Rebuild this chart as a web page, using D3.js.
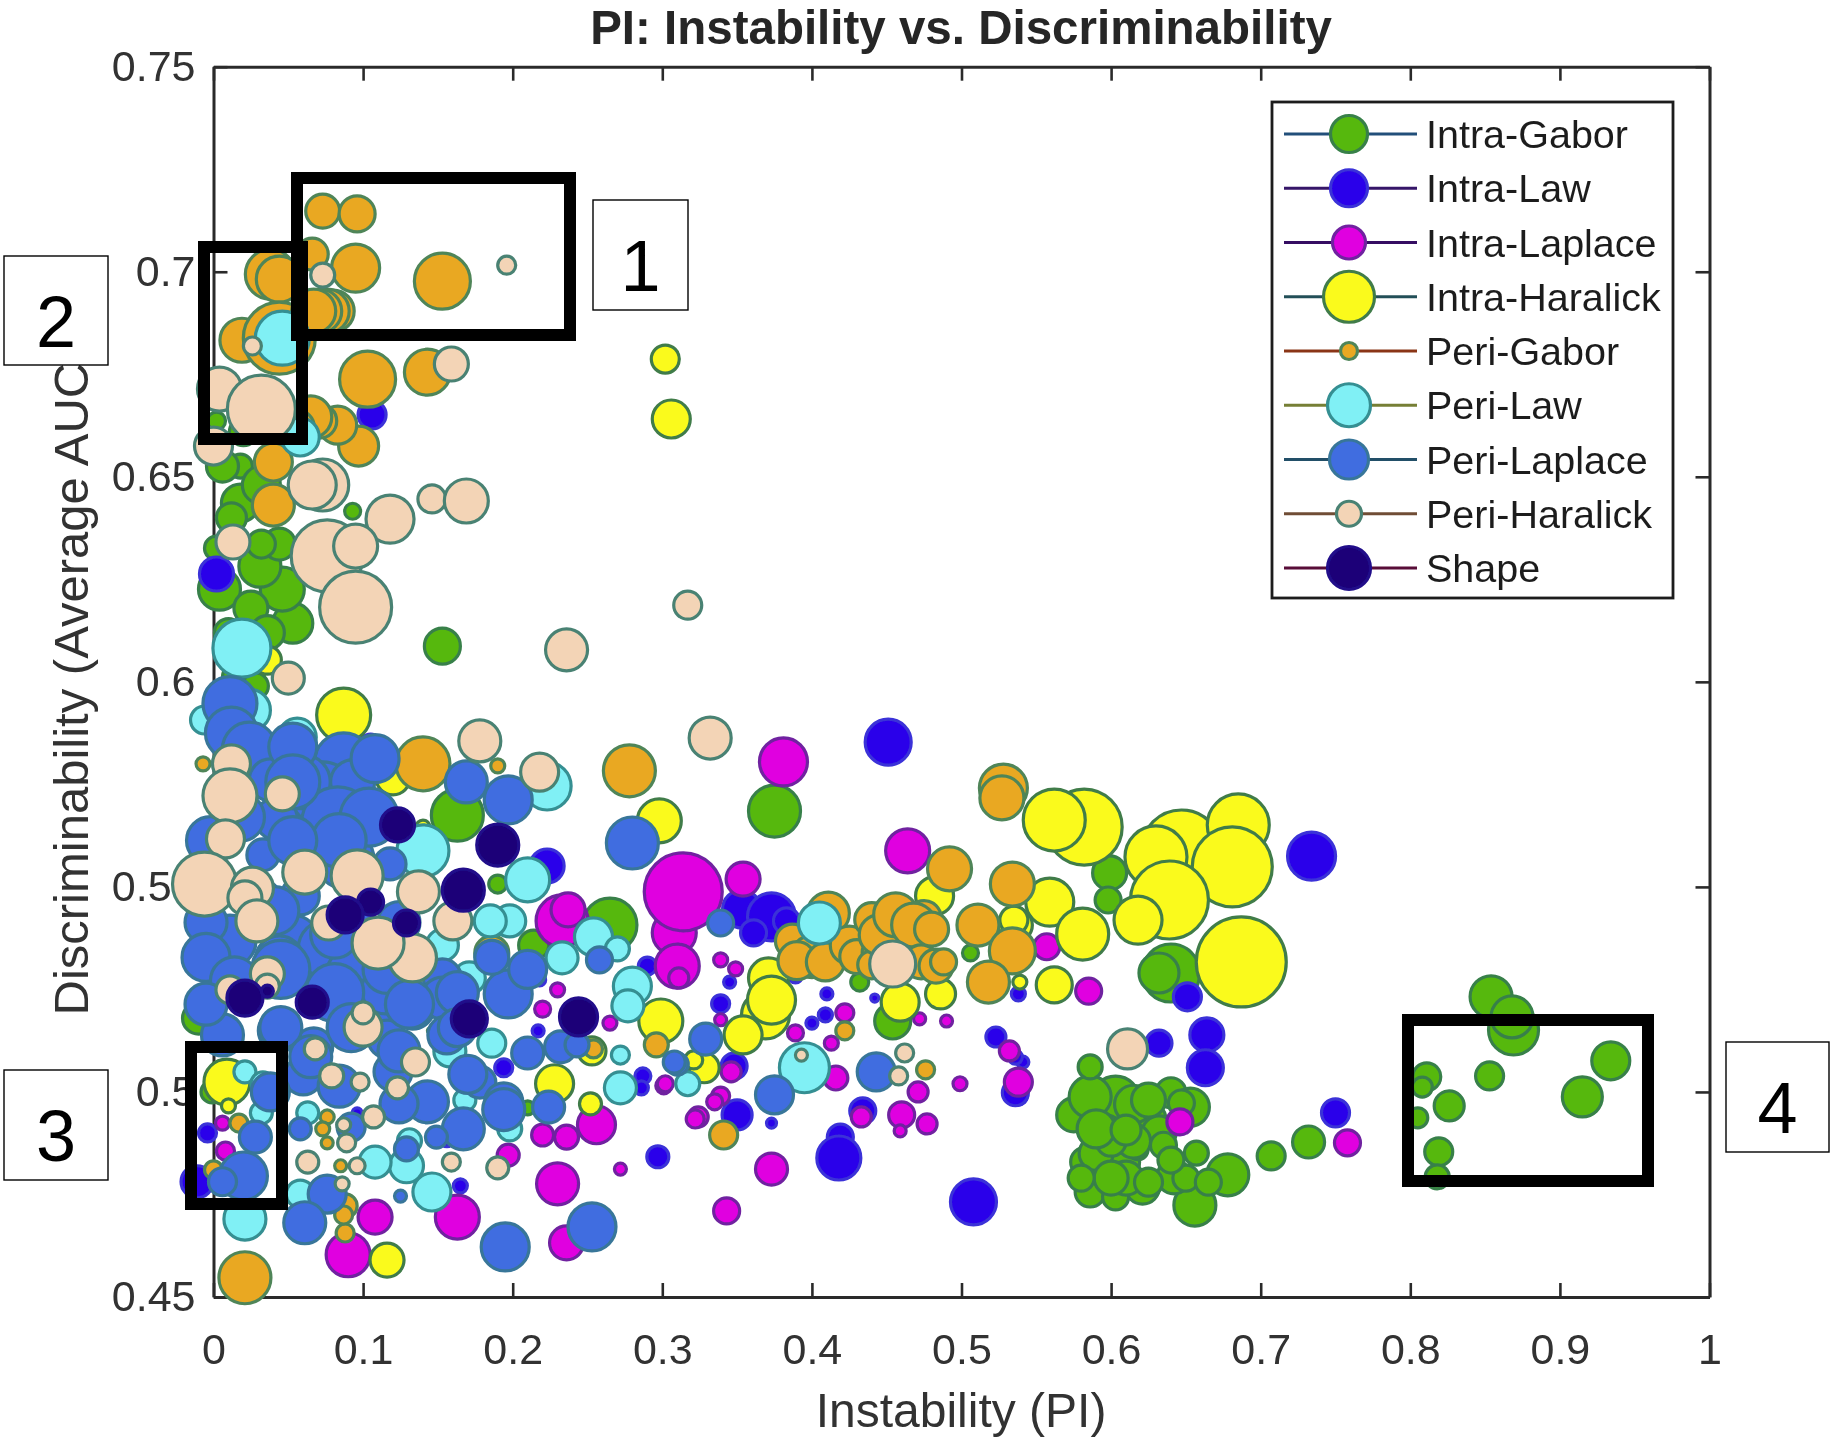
<!DOCTYPE html>
<html><head><meta charset="utf-8">
<script src="https://cdnjs.cloudflare.com/ajax/libs/d3/7.8.5/d3.min.js"></script>
<style>html,body{margin:0;padding:0;background:#fff}svg{display:block}text{font-family:"Liberation Sans",Arial,sans-serif}</style>
</head><body><svg id="c" width="1834" height="1446"></svg>
<script>
// [instability, AUC, bubble size]
const intraGabor=[[.153,.6087,19],[.053,.6143,21],[.046,.6226,23],[.004,.6226,22],[.031,.6282,22],[.044,.6336,17],[.032,.6336,15],[.018,.6436,20],[.093,.6416,9],[.002,.6326,13],[.018,.6526,13],[.006,.6526,17],[.020,.6009,22],[.002,.6636,10],[.02,.6610,15],[.032,.6480,20],[.012,.6400,16],[.025,.6180,18],[.036,.6120,18],[.01,.6120,15],[.854,.5232,22],[.869,.5151,26],[.868,.5183,22],[.934,.5076,20],[.915,.4988,21],[.853,.5039,15],[.811,.5037,15],[.808,.5012,11],[.826,.4966,16],[.805,.4937,11],[.819,.4854,15],[.818,.4793,13],[.732,.4878,17],[.707,.4844,15],[.656,.4724,22],[.678,.4798,22],[.657,.4851,13],[.642,.4793,18],[.621,.4768,18],[.605,.4829,22],[.583,.4829,16],[.586,.4756,16],[.603,.4744,14],[.575,.4944,18],[.603,.4980,25],[.586,.4988,22],[.597,.4907,16],[.624,.4932,20],[.640,.4998,16],[.653,.4963,20],[.647,.4973,14],[.632,.4900,18],[.586,.5061,13],[.618,.4859,11],[.59,.4850,18],[.61,.4790,18],[.625,.4780,15],[.60,.4790,18],[.58,.4790,14],[.615,.4880,18],[.60,.4880,16],[.635,.4870,14],[.650,.4790,14],[.665,.4780,14],[.615,.4970,20],[.625,.4980,18],[.59,.4910,20],[.640,.5290,30],[.632,.5290,21],[.599,.5534,18],[.598,.5468,14],[.375,.5685,27],[.454,.5173,19],[.432,.5268,10],[.506,.5339,9],[.163,.5675,27],[-.010,.5180,17],[.214,.5358,16],[.265,.5407,28],[-.001,.5,12],[.210,.4961,8],[-.009,.5636,8],[.190,.5507,10],[.028,.5990,14],[.610,.4907,16],[.640,.4834,14]];
const intraLaw=[[.106,.6651,15],[.002,.6263,18],[.105,.5846,12],[.223,.5551,18],[.290,.5307,10],[-.004,.4900,10],[-.011,.4781,17],[.165,.4771,8],[.297,.4842,12],[.287,.5039,9],[.286,.5010,8],[.194,.5059,10],[.218,.5273,7],[.096,.4949,6],[.217,.5149,7],[.156,.4881,7],[.451,.5853,24],[.353,.5446,20],[.373,.5427,25],[.361,.5388,14],[.383,.5417,14],[.339,.5215,10],[.389,.5283,8],[.410,.5239,7],[.409,.5188,8],[.400,.5168,7],[.345,.5268,7],[.350,.4944,16],[.348,.5063,14],[.434,.4954,14],[.419,.4890,14],[.418,.4839,23],[.373,.4924,6],[.508,.4732,24],[.442,.5229,5],[.523,.5134,11],[.538,.4990,10],[.541,.5073,7],[.538,.5239,8],[.734,.5575,25],[.651,.5232,15],[.632,.5119,14],[.664,.5139,18],[.663,.5059,19],[.750,.4949,15],[.536,.4998,14],[.536,.5085,8]];
const intraLaplace=[[.381,.5805,25],[.354,.5519,18],[.308,.5388,23],[.464,.5588,23],[.310,.5307,23],[.311,.5278,11],[.339,.5322,8],[.349,.5300,8],[.557,.5354,14],[.585,.5246,14],[.490,.5173,7],[.472,.5178,7],[.532,.5100,11],[.538,.5024,15],[.499,.5020,8],[.471,.5,11],[.460,.4944,14],[.477,.4922,11],[.459,.4905,7],[.433,.4939,11],[.416,.5034,13],[.422,.5193,10],[.413,.5119,8],[.389,.5144,9],[.346,.5049,11],[.339,.4990,10],[.335,.4976,9],[.324,.4939,11],[.301,.5015,9],[.373,.4812,17],[.272,.4812,7],[.343,.4710,14],[.258,.4924,16],[.339,.5176,7],[.233,.5417,27],[.237,.5444,18],[.230,.5249,8],[.220,.5202,9],[.265,.5168,8],[.220,.4895,12],[.236,.4890,13],[.256,.4920,20],[.230,.4776,22],[.197,.4846,12],[.163,.4695,23],[.108,.4695,18],[.090,.4603,23],[.236,.4632,18],[.006,.4924,8],[.008,.4856,10],[.168,.5059,5],[-.009,.5344,5],[.302,.5020,9],[.322,.4934,10],[.758,.4876,14],[.646,.4927,14],[.314,.5488,40]];
const intraHaralick=[[.302,.6787,15],[.306,.6641,20],[.036,.6053,15],[.087,.5919,28],[.120,.5766,18],[.140,.5646,8],[.298,.5661,23],[.299,.5173,23],[.371,.5278,21],[.369,.5188,25],[.354,.5139,20],[.373,.5224,25],[.582,.5646,39],[.562,.5663,32],[.559,.5463,25],[.581,.5385,27],[.562,.5261,19],[.459,.5219,20],[.486,.5239,16],[.482,.5478,20],[.536,.5407,18],[.539,.5268,8],[.328,.5059,16],[.647,.5590,41],[.685,.5651,32],[.681,.5549,41],[.630,.5573,32],[.639,.5468,40],[.618,.5419,25],[.687,.5317,46],[.535,.5419,15],[.009,.5024,24],[.228,.5020,20],[.252,.4971,12],[.253,.5100,15],[.116,.4590,18],[.321,.5078,10],[.010,.4966,8],[-.004,.5197,7]];
const periGabor=[[.073,.7148,18],[.096,.7141,19],[.095,.7009,25],[.153,.6977,29],[.038,.6994,26],[.044,.6982,24],[.066,.7043,17],[.103,.6738,29],[.143,.6755,24],[.097,.6575,21],[.083,.6626,20],[.071,.6636,18],[.065,.6646,22],[.019,.6833,23],[.044,.6838,37],[.080,.6904,22],[.076,.6904,23],[.071,.6904,23],[.067,.6904,23],[.040,.6431,22],[.040,.6536,20],[.056,.6621,18],[.140,.5800,28],[.278,.5783,27],[.190,.5795,8],[-.007,.5800,8],[.021,.4547,27],[.088,.4656,10],[.186,.5339,18],[.296,.5115,13],[.254,.5105,10],[.017,.4924,10],[.000,.4810,10],[.076,.4939,8],[.076,.4876,7],[.085,.4820,7],[.073,.4910,8],[.088,.4722,13],[.087,.4700,10],[.113,.5073,4],[.145,.5149,4],[.411,.5436,22],[.387,.5368,18],[.40,.5330,22],[.39,.5320,20],[.409,.5317,20],[.425,.5358,20],[.43,.5330,18],[.445,.5340,18],[.44,.5310,15],[.46,.5330,18],[.47,.5370,18],[.44,.5420,18],[.475,.5425,18],[.445,.5383,21],[.456,.5432,23],[.468,.5407,23],[.473,.5317,18],[.483,.5307,18],[.488,.5317,14],[.480,.5397,18],[.511,.5407,22],[.534,.5507,23],[.534,.5344,24],[.518,.5268,22],[.492,.5544,23],[.528,.5741,25],[.527,.5717,23],[.341,.4895,15],[.422,.5149,10],[.476,.5054,10]];
const periLaw=[[.046,.6838,28],[.019,.6082,30],[.058,.6597,20],[.056,.5865,20],[-.006,.5907,15],[.223,.5746,25],[.140,.5588,27],[.210,.5517,23],[.198,.5417,17],[.185,.5417,17],[.233,.5327,17],[.254,.5378,20],[.270,.5349,13],[.280,.5258,20],[.277,.5210,17],[.171,.5278,17],[.153,.5358,17],[.158,.5100,17],[.186,.5119,15],[.272,.5010,17],[.272,.5090,10],[.317,.5020,13],[.021,.5049,12],[.033,.5020,13],[.032,.4949,12],[.063,.4949,12],[.119,.5129,8],[.146,.4756,20],[.129,.4820,18],[.108,.4829,17],[.021,.4690,22],[.058,.4751,15],[.131,.4881,13],[.198,.4910,13],[.168,.4980,12],[.405,.5412,22],[.395,.5059,26],[.024,.5931,22]];
const periLaplace=[[.011,.5947,28],[.012,.5875,27],[.024,.5836,28],[.087,.5805,30],[.073,.5727,33],[.093,.5756,23],[.060,.5756,28],[.042,.5666,22],[.083,.5656,37],[.169,.5756,22],[.197,.5712,25],[.280,.5607,27],[.033,.5578,17],[.096,.5636,20],[.118,.5556,17],[.058,.5478,20],[.011,.5368,27],[.053,.5368,27],[.076,.5349,30],[-.002,.5307,17],[.093,.5288,27],[.120,.5307,23],[.153,.5278,20],[.078,.5229,23],[.111,.5188,23],[.133,.5207,23],[.153,.5229,22],[.197,.5239,25],[.006,.5139,22],[.044,.5149,22],[.067,.5110,20],[.116,.5129,20],[.156,.5139,20],[.210,.5095,17],[.232,.5110,17],[.243,.5115,13],[.060,.5039,20],[.143,.4976,22],[.120,.5049,20],[.178,.5024,17],[.194,.4976,20],[.167,.4910,22],[.224,.4963,17],[.129,.4861,13],[.149,.4890,12],[.028,.4890,17],[.020,.4795,25],[.006,.4781,15],[.076,.4751,20],[.061,.4681,22],[.195,.4622,25],[.253,.4671,25],[.125,.4746,7],[.058,.4910,12],[.310,.5068,12],[.339,.5412,14],[.329,.5129,17],[.308,.5073,12],[.375,.4993,20],[.443,.5049,20],[.258,.5322,14],[.031,.5468,22],[.091,.5419,25],[.038,.5761,22],[.044,.5322,25],[.088,.5566,30],[.115,.5249,25],[-.002,.5613,25],[.018,.5670,25],[.053,.5841,25],[.053,.5756,28],[.108,.5813,25],[.104,.5670,30],[.084,.5613,28],[.053,.5613,25],[.041,.5442,25],[-.005,.5413,22],[-.005,.5328,25],[.014,.5271,25],[.045,.5299,30],[.081,.5385,25],[.081,.5242,30],[.124,.5413,22],[.116,.5299,25],[.131,.5214,25],[.163,.5242,22],[.186,.5328,18],[.21,.5299,20],[.045,.5157,22],[.092,.5157,25],[.124,.5100,22],[.065,.5086,22],[.038,.5,20],[.084,.5014,22],[.124,.4971,20],[.092,.4914,15],[.17,.5043,20],[.194,.4957,22],[.163,.5157,20],[-.005,.5214,22]];
const periHaralick=[[.196,.7016,10],[.073,.6992,13],[.026,.6819,10],[.159,.6775,18],[.004,.6714,23],[.000,.6575,20],[.032,.6665,35],[.073,.6480,27],[.066,.6480,25],[.118,.6397,25],[.146,.6446,15],[.169,.6441,23],[.076,.6307,37],[.095,.6182,37],[.095,.6331,23],[.013,.6341,18],[.236,.6078,22],[.317,.6187,15],[.050,.6009,17],[.332,.5863,22],[.012,.5800,20],[.046,.5727,18],[.011,.5722,28],[.008,.5617,20],[-.006,.5507,33],[.026,.5497,22],[.021,.5473,18],[.029,.5417,22],[.061,.5536,23],[.096,.5527,27],[.137,.5488,22],[.077,.5412,18],[.160,.5417,20],[.133,.5327,25],[.110,.5363,27],[.178,.5856,22],[.218,.5780,20],[.036,.5288,18],[.036,.5258,13],[.011,.5249,15],[.100,.5158,20],[.100,.5193,12],[.135,.5073,15],[.068,.5105,12],[.079,.5039,13],[.098,.5024,10],[.123,.5010,12],[.107,.4939,12],[.087,.4920,8],[.089,.4876,10],[.063,.4829,12],[.096,.4820,9],[.086,.4776,8],[.159,.4829,10],[.190,.4815,12],[.454,.5312,24],[.462,.5095,10],[.458,.5039,10],[.393,.5090,7],[.611,.5105,21]];
const shape=[[.123,.5651,18],[.190,.5602,22],[.167,.5492,22],[.105,.5463,14],[.088,.5432,19],[.129,.5412,14],[.021,.5229,19],[.036,.5246,7],[.066,.5219,17],[.171,.5178,19],[.244,.5183,20]];

const seriesNames=["Intra-Gabor","Intra-Law","Intra-Laplace","Intra-Haralick","Peri-Gabor","Peri-Law","Peri-Laplace","Peri-Haralick","Shape"];
const seriesData=[intraGabor,intraLaw,intraLaplace,intraHaralick,periGabor,periLaw,periLaplace,periHaralick,shape];
const legendSizes=[19,19,17,26,9,22,20,13,22];
const fills=["#56b80f","#2a00ea","#e000e0","#fafa1e","#e9a820","#80f0f5","#3f6de0","#f3d4b6","#1a0078"];
const edges=["#37804a","#3a30d8","#6f22a0","#417c48","#4f8558","#358f92","#387699","#4a8273","#20108a"];
const lineCols=["#24507a","#341268","#340a62","#244f58","#8a3616","#767f34","#244f68","#704e34","#580a38"];
const xTicks=[0,.1,.2,.3,.4,.5,.6,.7,.8,.9,1];
const yTicks=[.45,.5,.55,.6,.65,.7,.75];

const svg=d3.select("#c");
const defs=svg.append("defs");
defs.append("filter").attr("id","soft").attr("filterUnits","userSpaceOnUse")
 .attr("x",0).attr("y",0).attr("width",1834).attr("height",1446)
 .append("feGaussianBlur").attr("stdDeviation",0.65);
const L=213.5,R=1709.5,T=66.7,B=1297;
const x=d3.scaleLinear().domain([0,1]).range([L,R]);
const y=d3.scaleLinear().domain([.45,.75]).range([B,T]);
const r=d3.scaleLinear().domain([0,50]).range([0,50]);
const root=svg.append("g").attr("filter","url(#soft)");
const fmt=d=>String(+d.toFixed(2));
function style(g,hide){
 g.selectAll(".domain").attr("stroke","#2c2c2c").attr("stroke-width",3);
 g.selectAll(".tick line").attr("stroke","#2c2c2c").attr("stroke-width",2.6);
 g.selectAll("text").attr("fill","#303030").attr("font-size",43).attr("font-family","Liberation Sans");
 if(hide) g.selectAll("text").remove();
}
root.append("g").attr("transform",`translate(0,${B})`).call(d3.axisBottom(x).tickValues(xTicks).tickSize(-14).tickSizeOuter(0).tickPadding(36).tickFormat(fmt)).call(style);
root.append("g").attr("transform",`translate(0,${T})`).call(d3.axisTop(x).tickValues(xTicks).tickSize(-14).tickSizeOuter(0)).call(g=>style(g,true));
root.append("g").attr("transform",`translate(${L},0)`).call(d3.axisLeft(y).tickValues(yTicks).tickSize(-14).tickSizeOuter(0).tickPadding(18).tickFormat(fmt)).call(style);
root.append("g").attr("transform",`translate(${R},0)`).call(d3.axisRight(y).tickValues(yTicks).tickSize(-14).tickSizeOuter(0)).call(g=>style(g,true));

root.append("text").attr("x",961).attr("y",43.5).attr("text-anchor","middle").attr("font-size",47.5).attr("font-weight","bold").attr("fill","#262626").text("PI: Instability vs. Discriminability");
root.append("text").attr("x",961).attr("y",1427).attr("text-anchor","middle").attr("font-size",48).attr("fill","#303030").text("Instability (PI)");
root.append("text").attr("transform","translate(88,681) rotate(-90)").attr("text-anchor","middle").attr("font-size",49).attr("fill","#303030").text("Discriminability (Average AUC)");

seriesData.forEach((pts,i)=>{
 root.append("g").selectAll("circle").data(pts).join("circle")
  .attr("cx",d=>x(d[0])).attr("cy",d=>y(d[1])).attr("r",d=>r(d[2])-1)
  .attr("fill",fills[i]).attr("stroke",edges[i]).attr("stroke-width",3.2);
});

// legend
const lg=root.append("g");
lg.append("rect").attr("x",1272).attr("y",102).attr("width",401).attr("height",496).attr("fill","#fff").attr("stroke","#1a1a1a").attr("stroke-width",2.8);
const rowY=d3.scalePoint().domain(seriesNames).range([134,568]);
seriesNames.forEach((n,i)=>{
 const g=lg.append("g").attr("transform",`translate(0,${rowY(n)})`);
 g.append("line").attr("x1",1284).attr("x2",1417).attr("stroke",lineCols[i]).attr("stroke-width",3);
 g.append("circle").attr("cx",1349).attr("r",r(legendSizes[i])-0.5).attr("fill",fills[i]).attr("stroke",edges[i]).attr("stroke-width",3.2);
 g.append("text").attr("x",1426).attr("y",14).attr("font-size",39.5).attr("fill","#1f1f1f").text(n);
});

// callouts
const callouts=svg.append("g");
[[297,178,273,157],[204,247,98,192],[191,1047,91,157],[1408,1020,240,161]].forEach(b=>{
 callouts.append("rect").attr("x",b[0]).attr("y",b[1]).attr("width",b[2]).attr("height",b[3]).attr("fill","none").attr("stroke","#000").attr("stroke-width",12);
});
[["1",593,200,95,110],["2",4,256,104,109],["3",4,1070,104,110],["4",1726,1042,103,110]].forEach(b=>{
 callouts.append("rect").attr("x",b[1]).attr("y",b[2]).attr("width",b[3]).attr("height",b[4]).attr("fill","#fff").attr("stroke","#000").attr("stroke-width",1.4);
 callouts.append("text").attr("x",b[1]+b[3]/2).attr("y",b[2]+b[4]/2+36).attr("text-anchor","middle").attr("font-size",72).attr("font-family","DejaVu Sans").attr("fill","#000").text(b[0]);
});
</script></body></html>
